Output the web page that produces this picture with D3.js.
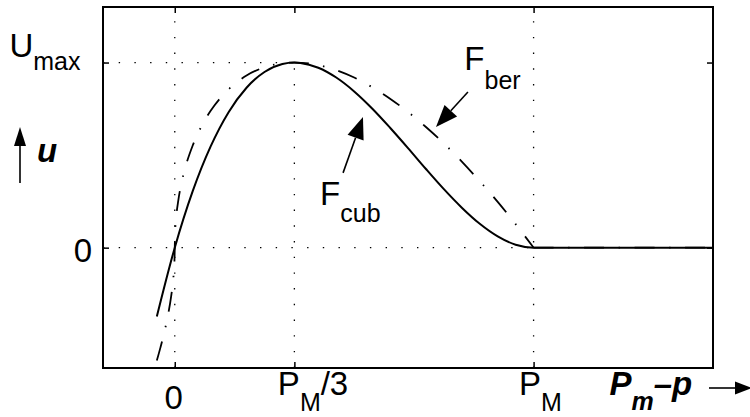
<!DOCTYPE html>
<html><head><meta charset="utf-8">
<script src="https://cdn.jsdelivr.net/npm/d3@7"></script>
<style>
  body { margin: 0; background: #fff; }
  svg { display: block; }
  text { font-family: "Liberation Sans", Arial, Helvetica, sans-serif; fill: #000; }
</style>
</head><body>
<svg id="chart" width="750" height="417"></svg>
<script>
// Utility u against pressure margin (P_M normalised to 1, U_max normalised to 1)

// cubic utility F_cub
const cubX = [-0.05, 0, 0.05, 0.10, 0.15, 0.20, 0.25, 0.30, 0.3333, 0.35, 0.40, 0.45, 0.50,
              0.55, 0.60, 0.65, 0.70, 0.75, 0.80, 0.85, 0.90, 0.95, 1.00, 1.50];
const cubY = [-0.372, 0, 0.305, 0.547, 0.732, 0.864, 0.949, 0.992, 1.000, 0.998, 0.972, 0.919, 0.844,
              0.752, 0.648, 0.538, 0.425, 0.316, 0.216, 0.129, 0.061, 0.016, 0, 0];

// F_ber utility (steep at the origin)
const berX = [-0.05, -0.04, -0.03, -0.02, -0.01, -0.004, -0.001, 0, 0.001, 0.004, 0.01, 0.02, 0.03,
              0.05, 0.075, 0.10, 0.15, 0.20, 0.25, 0.30, 0.3333, 0.40, 0.45, 0.50, 0.55, 0.60,
              0.65, 0.70, 0.75, 0.80, 0.85, 0.90, 0.95, 1.00];
const berY = [-0.610, -0.540, -0.464, -0.375, -0.262, -0.165, -0.082, 0, 0.082, 0.164, 0.257, 0.360, 0.437,
              0.552, 0.658, 0.739, 0.855, 0.930, 0.974, 0.996, 1.000, 0.986, 0.959, 0.919, 0.867, 0.805,
              0.733, 0.652, 0.563, 0.465, 0.359, 0.247, 0.127, 0];
// beyond P_M the F_ber utility stays at zero
const berTailX = [1.00, 1.50];
const berTailY = [0, 0];

const xTicks = [0, 1 / 3, 1];
const xTickLabels = ["0", "P_{M}/3", "P_{M}"];
const yTicks = [0, 1];
const yTickLabels = ["0", "U_{max}"];

const xDomain = [-0.2, 1.5];
const yDomain = [-0.65, 1.3];

const svg = d3.select("#chart");
const boxL = 103, boxR = 713, boxT = 7, boxB = 368;

const x = d3.scaleLinear().domain(xDomain).range([boxL, boxR]);
const y = d3.scaleLinear().domain(yDomain).range([boxB, boxT]);

const MAIN = 33, SUB = 25;

// dotted reference lines at 0, P_M/3, P_M and U_max
const guides = [
  [[0, yDomain[0]], [0, yDomain[1]]],
  [[1 / 3, yDomain[0]], [1 / 3, 1]],
  [[1, yDomain[0]], [1, yDomain[1]]],
  [[xDomain[0], 0], [1, 0]],
  [[xDomain[0], 1], [1 / 3, 1]]
];
svg.append("g").selectAll("line").data(guides).join("line")
  .attr("x1", d => x(d[0][0])).attr("y1", d => y(d[0][1]))
  .attr("x2", d => x(d[1][0])).attr("y2", d => y(d[1][1]))
  .attr("stroke", "#000").attr("stroke-width", 1.3)
  .attr("stroke-dasharray", "1.4,14.3");

const line = d3.line().x(d => x(d[0])).y(d => y(d[1]));

// F_ber, dash-dot
svg.append("path")
  .attr("d", line.curve(d3.curveMonotoneX)(d3.zip(berX, berY)))
  .attr("fill", "none").attr("stroke", "#000").attr("stroke-width", 1.8)
  .attr("stroke-dasharray", "20,14.5,1.5,14.5");
svg.append("path")
  .attr("d", line.curve(d3.curveLinear)(d3.zip(berTailX, berTailY)))
  .attr("fill", "none").attr("stroke", "#000").attr("stroke-width", 1.8)
  .attr("stroke-dasharray", "20,14.5,1.5,14.5");

// F_cub, solid
svg.append("path")
  .attr("d", line.curve(d3.curveMonotoneX)(d3.zip(cubX, cubY)))
  .attr("fill", "none").attr("stroke", "#000").attr("stroke-width", 2);

// axes box with inward ticks on all four sides
const tickLen = -6;
const axes = [
  [d3.axisBottom(x).tickValues(xTicks), `translate(0,${boxB})`],
  [d3.axisTop(x).tickValues(xTicks), `translate(0,${boxT})`],
  [d3.axisLeft(y).tickValues(yTicks), `translate(${boxL},0)`],
  [d3.axisRight(y).tickValues(yTicks), `translate(${boxR},0)`]
];
axes.forEach(([ax, tr]) => {
  const g = svg.append("g").attr("transform", tr)
    .call(ax.tickSizeInner(tickLen).tickSizeOuter(0).tickFormat(""));
  g.select(".domain").remove();
  g.selectAll(".tick line").attr("stroke", "#000").attr("stroke-width", 1.5);
});
svg.append("rect")
  .attr("x", boxL).attr("y", boxT).attr("width", boxR - boxL).attr("height", boxB - boxT)
  .attr("fill", "none").attr("stroke", "#000").attr("stroke-width", 2);

// minimal TeX-like text: "A_{sub}B" -> main / subscript / main
function texText(g, str, px, py, subDy, opts = {}) {
  const parts = [];
  const re = /_\{([^}]*)\}/g;
  let last = 0, m;
  while ((m = re.exec(str)) !== null) {
    if (m.index > last) parts.push({ t: str.slice(last, m.index), sub: false });
    parts.push({ t: m[1], sub: true });
    last = re.lastIndex;
  }
  if (last < str.length) parts.push({ t: str.slice(last), sub: false });
  const t = g.append("text").attr("x", px).attr("y", py)
    .attr("text-anchor", opts.anchor || "start")
    .style("font-size", MAIN + "px");
  if (opts.bold) t.style("font-weight", "bold");
  if (opts.italic) t.style("font-style", "italic");
  let lvl = 0;
  parts.forEach(p => {
    const dy = (p.sub ? subDy : 0) - lvl;
    lvl = p.sub ? subDy : 0;
    t.append("tspan").attr("dy", dy).style("font-size", (p.sub ? SUB : MAIN) + "px").text(p.t);
  });
  return t;
}

const labels = svg.append("g");

// x tick labels
const xLabelShift = [-10.2, -16.5, -14.5];
xTicks.forEach((v, i) => {
  const by = i === 0 ? 409 : 395;
  texText(labels, xTickLabels[i], x(v) + xLabelShift[i], by, 16);
});

// y tick labels
texText(labels, yTickLabels[0], boxL - 11, y(0) + 14, 0, { anchor: "end" });
texText(labels, yTickLabels[1], 9.4, y(1) - 6, 13);

// curve annotations
texText(labels, "F_{ber}", x(0.807), y(0.96), 19);
texText(labels, "F_{cub}", x(0.405), y(0.231), 17);

function arrow(g, x1, y1, x2, y2, headLen, headHalf, width) {
  const a = Math.atan2(y2 - y1, x2 - x1);
  const bx = x2 - headLen * Math.cos(a), by = y2 - headLen * Math.sin(a);
  g.append("line").attr("x1", x1).attr("y1", y1).attr("x2", bx).attr("y2", by)
    .attr("stroke", "#000").attr("stroke-width", width);
  const nx = -Math.sin(a) * headHalf, ny = Math.cos(a) * headHalf;
  g.append("path")
    .attr("d", `M${x2},${y2}L${bx + nx},${by + ny}L${bx - nx},${by - ny}Z`)
    .attr("fill", "#000");
}

arrow(labels, x(0.817), y(0.841), x(0.728), y(0.652), 22, 8.5, 1.6);
arrow(labels, x(0.469), y(0.404), x(0.5245), y(0.706), 22, 8.5, 1.6);

// axis titles
texText(labels, "P_{m}–p", 609.5, 395, 15, { bold: true, italic: true });
arrow(labels, 709, 388, 752, 388, 17, 6.5, 1.6);

arrow(labels, 20, 183, 20, 127, 19, 6, 1.6);
texText(labels, "u", 37, 162, 0, { bold: true, italic: true });
</script>
</body></html>
